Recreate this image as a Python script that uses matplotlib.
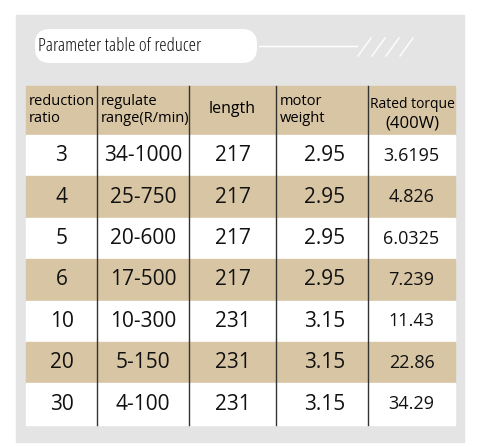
import matplotlib
matplotlib.use("Agg")
import matplotlib.pyplot as plt
from matplotlib.patches import Rectangle, FancyBboxPatch

title = "Parameter table of reducer"
headers = ["reduction\nratio", "regulate\nrange(R/min)", "length", "motor\nweight", "Rated torque"]
header_sub = "(400W)"
ratio = ["3", "4", "5", "6", "10", "20", "30"]
rng = ["34-1000", "25-750", "20-600", "17-500", "10-300", "5-150", "4-100"]
length = ["217", "217", "217", "217", "231", "231", "231"]
weight = ["2.95", "2.95", "2.95", "2.95", "3.15", "3.15", "3.15"]
torque = ["3.6195", "4.826", "6.0325", "7.239", "11.43", "22.86", "34.29"]

W, H = 480, 447
fig = plt.figure(figsize=(W/100, H/100), dpi=100)
ax = fig.add_axes([0, 0, 1, 1])
ax.set_xlim(0, W); ax.set_ylim(H, 0); ax.axis("off")
fig.patch.set_facecolor("white")
ff = ["Open Sans", "DejaVu Sans"]

ax.add_patch(Rectangle((16, 15), 448, 427, color="#e4e4e4", zorder=0))
ax.add_patch(FancyBboxPatch((35, 29), 222, 34, boxstyle="round,pad=0,rounding_size=15",
                            fc="white", ec="none", zorder=1))
ax.text(38, 46, title, fontsize=13.5, va="center", ha="left", family=ff, color="#111",
        stretch="condensed")
ax.plot([259, 357], [46, 46], color="white", lw=1)
for i in range(4):
    x0 = 358 + i * 14
    ax.plot([x0, x0 + 13], [56, 38], color="white", lw=1)

xs = [26, 97, 189, 276, 368, 455]
tan = "#d8c5a4"
ax.add_patch(Rectangle((26, 86), 429, 49, color=tan, zorder=1))
rowh = 41.4
cols = [ratio, rng, length, weight, torque]
for r in range(len(ratio)):
    y0 = 135 + r * rowh
    ax.add_patch(Rectangle((26, y0), 429, rowh, color="white" if r % 2 == 0 else tan, zorder=1))
    for c in range(5):
        fs = 13 if c == 4 else 15
        ax.text((xs[c] + xs[c+1]) / 2 + (3 if c == 3 else 0), y0 + rowh / 2, cols[c][r],
                ha="center", va="center", fontsize=fs, family=ff, color="#111", zorder=3)
hx = [29, 101, 232, 280, 372]
for c in range(4):
    if c == 2:
        ax.text(hx[c], 109, headers[c], ha="center", va="center", fontsize=11.5, family=ff, zorder=3)
    else:
        ax.text(hx[c], 110, headers[c], ha="left", va="center", fontsize=10.5, family=ff,
                linespacing=1.15, zorder=3)
ax.text(412, 104, headers[4], ha="center", va="center", fontsize=10, family=ff, zorder=3)
ax.text(412, 124, header_sub, ha="center", va="center", fontsize=12, family=ff, zorder=3)
bottom = 135 + len(ratio) * rowh
for x in xs[1:-1]:
    ax.plot([x, x], [86, bottom], color="#333", lw=1, zorder=4)

fig.savefig("out.png", dpi=100)
